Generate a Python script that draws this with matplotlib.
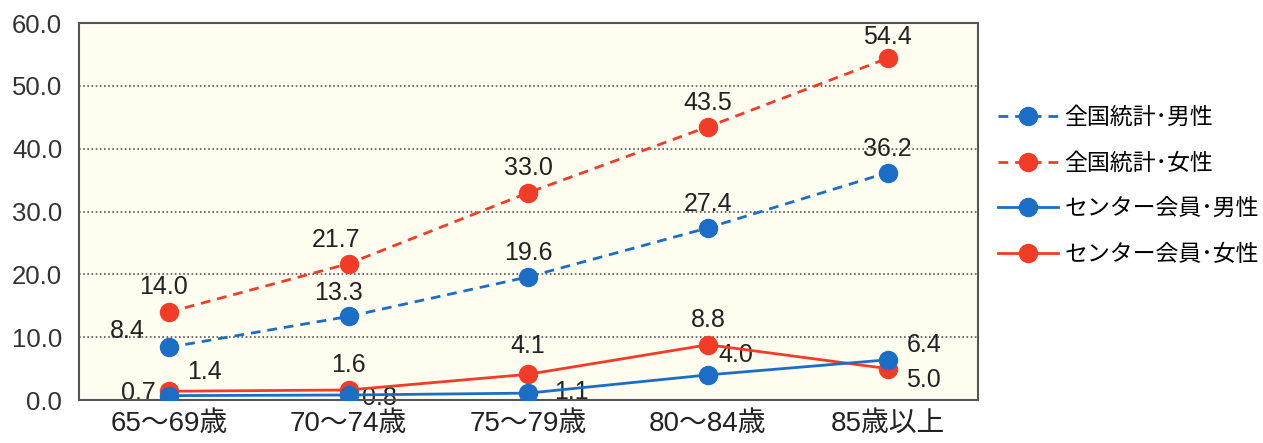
import matplotlib.pyplot as plt

plt.rcParams['font.family'] = ['Liberation Sans', 'Noto Sans CJK JP', 'DejaVu Sans']

# 年齢階級
ages = ['65～69歳', '70～74歳', '75～79歳', '80～84歳', '85歳以上']

# 割合 (%)
zenkoku_male = [8.4, 13.3, 19.6, 27.4, 36.2]
zenkoku_female = [14.0, 21.7, 33.0, 43.5, 54.4]
center_male = [0.7, 0.8, 1.1, 4.0, 6.4]
center_female = [1.4, 1.6, 4.1, 8.8, 5.0]

series_names = ['全国統計･男性', '全国統計･女性', 'センター会員･男性', 'センター会員･女性']

blue = '#1b6dc6'
red = '#f23c28'

fig = plt.figure(figsize=(12.63, 4.43), dpi=100)
ax = fig.add_axes([0.0625, 0.097, 0.7115, 0.851])
ax.set_facecolor('#fffdf0')

x = list(range(len(ages)))

ax.plot(x, zenkoku_male, color=blue, ls=(0, (3.5, 2.5)), lw=2, marker='o', ms=13,
        label=series_names[0], zorder=3)
ax.plot(x, zenkoku_female, color=red, ls=(0, (3.5, 2.5)), lw=2, marker='o', ms=13,
        label=series_names[1], zorder=3)
ax.plot(x, center_male, color=blue, lw=2, marker='o', ms=13,
        label=series_names[2], zorder=4)
ax.plot(x, center_female, color=red, lw=2, marker='o', ms=13,
        label=series_names[3], zorder=3)

# ラベルの位置 (points)
off_zm = [(-30, 12), (-7, 17), (0, 17), (0, 17), (0, 17)]
off_zf = [(-4, 18), (-9, 17), (0, 18), (0, 17), (0, 15)]
off_cm = [(-22, 2), (22, -2), (31, 1), (20, 14), (26, 11)]
off_cf = [(26, 14), (0, 18), (0, 20), (0, 18), (26, -8)]

for vals, offs in [(zenkoku_male, off_zm), (zenkoku_female, off_zf),
                   (center_male, off_cm), (center_female, off_cf)]:
    for i, v in enumerate(vals):
        ax.annotate(f'{v:.1f}', (i, v), xytext=offs[i], textcoords='offset points',
                    ha='center', va='center', fontsize=18, color='#222222',
                    zorder=2.5)

ax.set_xlim(-0.5, len(ages) - 0.5)
ax.set_ylim(0, 60)
ax.set_yticks([0, 10, 20, 30, 40, 50, 60])
ax.set_yticklabels([f'{t:.1f}' for t in [0, 10, 20, 30, 40, 50, 60]])
ax.set_xticks(x)
ax.set_xticklabels(ages)
ax.tick_params(axis='y', length=0, labelsize=18.5, pad=12, labelcolor='#333333')
ax.tick_params(axis='x', length=0, labelsize=20, pad=8, labelcolor='#222222')

for y in [10, 20, 30, 40, 50]:
    ax.axhline(y, color='#555555', ls=(0, (1, 1.5)), lw=1.2, zorder=1)

for s in ax.spines.values():
    s.set_color('#555555')
    s.set_linewidth(1.5)

leg = ax.legend(loc='center left', bbox_to_anchor=(1.0, 0.568), frameon=False,
                fontsize=16.5, handlelength=2.6, handletextpad=0.3,
                labelspacing=0.98, borderaxespad=0.5)

fig.savefig('out.png', dpi=100)
